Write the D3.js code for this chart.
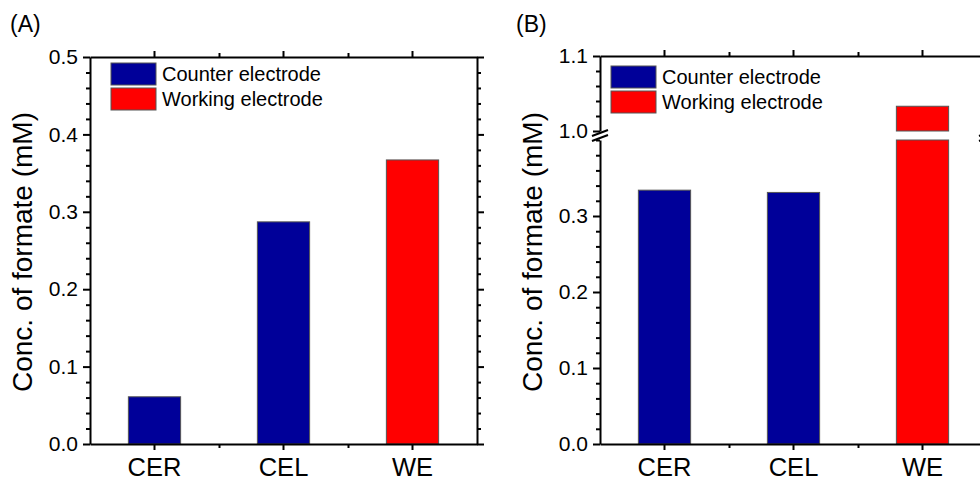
<!DOCTYPE html>
<html>
<head>
<meta charset="utf-8">
<script src="https://cdn.jsdelivr.net/npm/d3@7"></script>
<style>
    body { margin: 0; background: #fff; }
    svg text { font-family: "Liberation Sans", Arial, sans-serif; fill: #000; }
    .axis path, .axis line { stroke: #000; stroke-width: 2; }
</style>
</head>
<body>
<svg id="chart" width="980" height="481"></svg>
<script>
var categories = ['CER', 'CEL', 'WE'];
var electrode = ['counter', 'counter', 'working'];
var concA = [0.061, 0.287, 0.367];
var concB = [0.334, 0.331, 1.033];
var legendKeys = ['counter', 'working'];
var legendLabels = ['Counter electrode', 'Working electrode'];
var yTicksA = [0, 0.1, 0.2, 0.3, 0.4, 0.5];
var yTicksBLow = [0, 0.1, 0.2, 0.3];
var yTicksBHigh = [1.0, 1.1];
var yTitle = 'Conc. of formate (mM)';
var panelLabels = ['(A)', '(B)'];

var colors = { counter: '#000099', working: '#ff0000' };
var svg = d3.select('#chart');

var plotW = 387, plotBottom = 444;

function minorValues(lo, hi, majors) {
    var out = [];
    for (var v = lo; v <= hi + 1e-9; v += 0.02) {
        var r = Math.round(v * 100) / 100;
        if (majors.every(function (m) { return Math.abs(m - r) > 1e-6; })) out.push(r);
    }
    return out;
}

function panel(opts) {
    var g = svg.append('g').attr('transform', 'translate(' + opts.left + ',0)');
    var x = d3.scaleBand().domain(categories).range([0, plotW]);
    var edge = d3.scaleLinear().domain([0, 3]).range([0, plotW]);
    var barW = x.bandwidth() * 0.405;

    // y scales: one segment, or two when the axis is broken
    var segs = opts.segments.map(function (s) {
        return {
            scale: d3.scaleLinear().domain(s.domain).range(s.range),
            majors: s.majors, labelled: s.labelled
        };
    });

    // bars
    var bars = g.append('g');
    opts.values.forEach(function (v, i) {
        segs.forEach(function (s) {
            var d = s.scale.domain();
            if (v <= d[0]) return;
            var top = Math.min(v, d[1]);
            bars.append('rect')
                .attr('x', x(categories[i]) + x.bandwidth() / 2 - barW / 2)
                .attr('y', s.scale(top))
                .attr('width', barW)
                .attr('height', s.scale(d[0]) - s.scale(top))
                .attr('fill', colors[electrode[i]])
                .attr('stroke', '#555')
                .attr('stroke-width', 1);
        });
    });

    // y axes (left + right)
    segs.forEach(function (s) {
        var d = s.scale.domain();
        var minor = minorValues(d[0], d[1], s.majors);
        [['left', 0], ['right', plotW]].forEach(function (side) {
            var mk = side[0] === 'left' ? d3.axisLeft : d3.axisRight;
            var ax = g.append('g').attr('class', 'axis')
                .attr('transform', 'translate(' + side[1] + ',0)')
                .call(mk(s.scale).tickValues(s.majors).tickSize(7).tickSizeOuter(0).tickPadding(5)
                    .tickFormat(function (t) { return side[0] === 'left' && s.labelled.indexOf(t) >= 0 ? d3.format('.1f')(t) : ''; }));
            ax.selectAll('text').style('font-size', '21px');
            g.append('g').attr('class', 'axis')
                .attr('transform', 'translate(' + side[1] + ',0)')
                .call(mk(s.scale).tickValues(minor).tickSize(4).tickSizeOuter(0).tickFormat(''))
                .select('.domain').remove();
        });
    });

    // axis break marks
    if (segs.length > 1) {
        var yb = (segs[0].scale.range()[1] + segs[1].scale.range()[0]) / 2;
        [0, plotW].forEach(function (xx) {
            [-2.5, 2.5].forEach(function (off) {
                g.append('line')
                    .attr('x1', xx - 8).attr('y1', yb + off + 3)
                    .attr('x2', xx + 8).attr('y2', yb + off - 3)
                    .attr('stroke', '#000').attr('stroke-width', 2);
            });
        });
    }

    // x axes (bottom + top)
    var yTop = segs[segs.length - 1].scale.range()[1];
    var bottom = g.append('g').attr('class', 'axis')
        .attr('transform', 'translate(0,' + plotBottom + ')')
        .call(d3.axisBottom(x).tickSize(6).tickSizeOuter(0).tickPadding(8));
    bottom.selectAll('text').style('font-size', '25.5px');
    g.append('g').attr('class', 'axis')
        .attr('transform', 'translate(0,' + plotBottom + ')')
        .call(d3.axisBottom(edge).tickValues([1, 2]).tickSize(4).tickFormat(''))
        .select('.domain').remove();
    g.append('g').attr('class', 'axis')
        .attr('transform', 'translate(0,' + yTop + ')')
        .call(d3.axisTop(x).tickSize(6).tickSizeOuter(0).tickFormat(''));
    g.append('g').attr('class', 'axis')
        .attr('transform', 'translate(0,' + yTop + ')')
        .call(d3.axisTop(edge).tickValues([1, 2]).tickSize(4).tickFormat(''))
        .select('.domain').remove();

    // legend
    var leg = g.append('g').attr('transform', 'translate(' + opts.legendX + ',' + opts.legendY + ')');
    legendKeys.forEach(function (k, i) {
        leg.append('rect')
            .attr('x', 0).attr('y', i * 25)
            .attr('width', 45).attr('height', 22)
            .attr('fill', colors[k]).attr('stroke', '#555').attr('stroke-width', 1);
        leg.append('text')
            .attr('x', 51).attr('y', i * 25 + 18)
            .style('font-size', '20px')
            .text(legendLabels[i]);
    });

    // y title and panel label
    g.append('text')
        .attr('transform', 'translate(' + (opts.titleX - opts.left) + ',252) rotate(-90)')
        .attr('text-anchor', 'middle')
        .style('font-size', '28px')
        .text(yTitle);
    g.append('text')
        .attr('x', opts.labelX - opts.left).attr('y', 32)
        .style('font-size', '23px')
        .text(opts.label);
}

panel({
    left: 90, values: concA, label: panelLabels[0], labelX: 10, titleX: 32,
    legendX: 21, legendY: 63,
    segments: [{ domain: [0, 0.5], range: [plotBottom, 57], majors: yTicksA, labelled: yTicksA }]
});

panel({
    left: 600, values: concB, label: panelLabels[1], labelX: 516, titleX: 542,
    legendX: 11, legendY: 66,
    segments: [
        { domain: [0, 0.4], range: [plotBottom, 140], majors: yTicksBLow, labelled: yTicksBLow },
        { domain: [1.0, 1.1], range: [131, 56], majors: yTicksBHigh, labelled: yTicksBHigh }
    ]
});
</script>
</body>
</html>
